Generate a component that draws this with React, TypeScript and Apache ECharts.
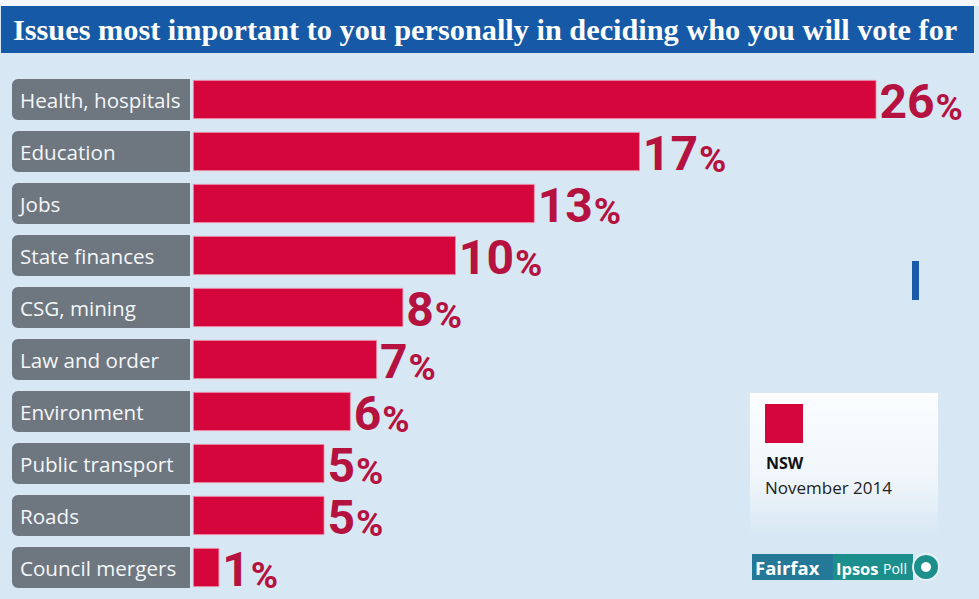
import React, { useEffect, useRef } from "react";
import * as echarts from "echarts";

const TITLE = "Issues most important to you personally in deciding who you will vote for";
const categories = [
  "Health, hospitals",
  "Education",
  "Jobs",
  "State finances",
  "CSG, mining",
  "Law and order",
  "Environment",
  "Public transport",
  "Roads",
  "Council mergers",
];
const values = [26, 17, 13, 10, 8, 7, 6, 5, 5, 1];
const legendRegion = "NSW";
const legendDate = "November 2014";
const sourceParts = ["Fairfax", "Ipsos", "Poll"];

export default function App() {
  const ref = useRef<HTMLDivElement>(null);
  useEffect(() => {
    if (!ref.current) return;
    const chart = echarts.init(ref.current, null, { renderer: "svg" });
    chart.setOption({
      animation: false,
      backgroundColor: "#d7e7f3",
      grid: { left: 193, right: 50, top: 73.5, bottom: 5.5, outerBoundsMode: "none" },
      xAxis: { type: "value", min: 0, max: 28, show: false },
      yAxis: {
        type: "category",
        data: categories,
        inverse: true,
        axisLine: { show: false },
        axisTick: { show: false },
        splitLine: { show: false },
        axisLabel: {
          align: "left",
          margin: 181,
          width: 170,
          height: 39,
          lineHeight: 39,
          padding: [0, 0, 2, 8],
          backgroundColor: "#6e7780",
          borderRadius: [6, 0, 0, 6],
          color: "#f4f6f8",
          fontFamily: "Open Sans",
          fontSize: 20.6,
          fontWeight: 500,
        },
      },
      series: [
        {
          type: "bar",
          data: values,
          barWidth: 39,
          itemStyle: { color: "#d4063b", borderColor: "#ec8fa6", borderWidth: 0.8 },
          label: {
            show: true,
            position: "right",
            distance: 3,
            offset: [0, 2],
            formatter: (p: any) => `{n|${p.value}}{p|%}`,
            rich: {
              n: {
                fontFamily: "Roboto",
                fontWeight: "bold",
                fontSize: 48,
                lineHeight: 48,
                color: "#b5123f",
              },
              p: {
                fontFamily: "Roboto",
                fontWeight: "bold",
                fontSize: 37,
                lineHeight: 48,
                color: "#b5123f",
                verticalAlign: "bottom",
                padding: [6, 0, 0, 1],
              },
            },
          },
        },
      ],
      graphic: [
        { type: "rect", shape: { x: 0, y: 0, width: 979, height: 6 }, style: { fill: "#f4f7fa" } },
        { type: "rect", shape: { x: 1, y: 6, width: 973, height: 47 }, style: { fill: "#1559a7" } },
        {
          type: "text",
          x: 13,
          y: 30,
          style: {
            text: TITLE,
            fill: "#ffffff",
            font: "bold 30.3px 'Liberation Serif'",
            verticalAlign: "middle",
          },
        },
        { type: "rect", shape: { x: 912, y: 261, width: 7, height: 39 }, style: { fill: "#1a5aa8" } },
        {
          type: "rect",
          shape: { x: 750, y: 393, width: 188, height: 140 },
          style: {
            fill: {
              type: "linear",
              x: 0, y: 0, x2: 0, y2: 1,
              colorStops: [
                { offset: 0, color: "#fbfdfe" },
                { offset: 0.6, color: "#f0f6fa" },
                { offset: 1, color: "#d9e8f3" },
              ],
            },
          },
        },
        { type: "rect", shape: { x: 765, y: 404, width: 38, height: 39 }, style: { fill: "#d4063b" } },
        {
          type: "text",
          x: 766,
          y: 463,
          style: { text: legendRegion, fill: "#111", font: "bold 16px 'Open Sans'", verticalAlign: "middle" },
        },
        {
          type: "text",
          x: 765,
          y: 487,
          style: { text: legendDate, fill: "#222", font: "17px 'Open Sans'", verticalAlign: "middle" },
        },
        { type: "rect", shape: { x: 752, y: 554, width: 81, height: 26 }, style: { fill: "#247898" } },
        { type: "rect", shape: { x: 833, y: 554, width: 80, height: 26 }, style: { fill: "#1c8f8d" } },
        {
          type: "text",
          x: 755,
          y: 567,
          style: { text: sourceParts[0], fill: "#fff", font: "bold 18.5px 'Open Sans'", verticalAlign: "middle" },
        },
        {
          type: "text",
          x: 836,
          y: 568,
          style: { text: sourceParts[1], fill: "#fff", font: "bold 16.5px 'Open Sans'", verticalAlign: "middle" },
        },
        {
          type: "text",
          x: 883,
          y: 568,
          style: { text: sourceParts[2], fill: "#fff", font: "14px 'Open Sans'", verticalAlign: "middle" },
        },
        { type: "circle", shape: { cx: 926, cy: 567, r: 13 }, style: { fill: "#1c8f8d", stroke: "#e6f1f6", lineWidth: 2 } },
        { type: "circle", shape: { cx: 926, cy: 567, r: 5 }, style: { fill: "#ffffff" } },
      ],
    });
    return () => chart.dispose();
  }, []);
  return (
    <div
      ref={ref}
      style={{ position: "absolute", left: 0, top: 0, width: 979, height: 599 }}
    />
  );
}
